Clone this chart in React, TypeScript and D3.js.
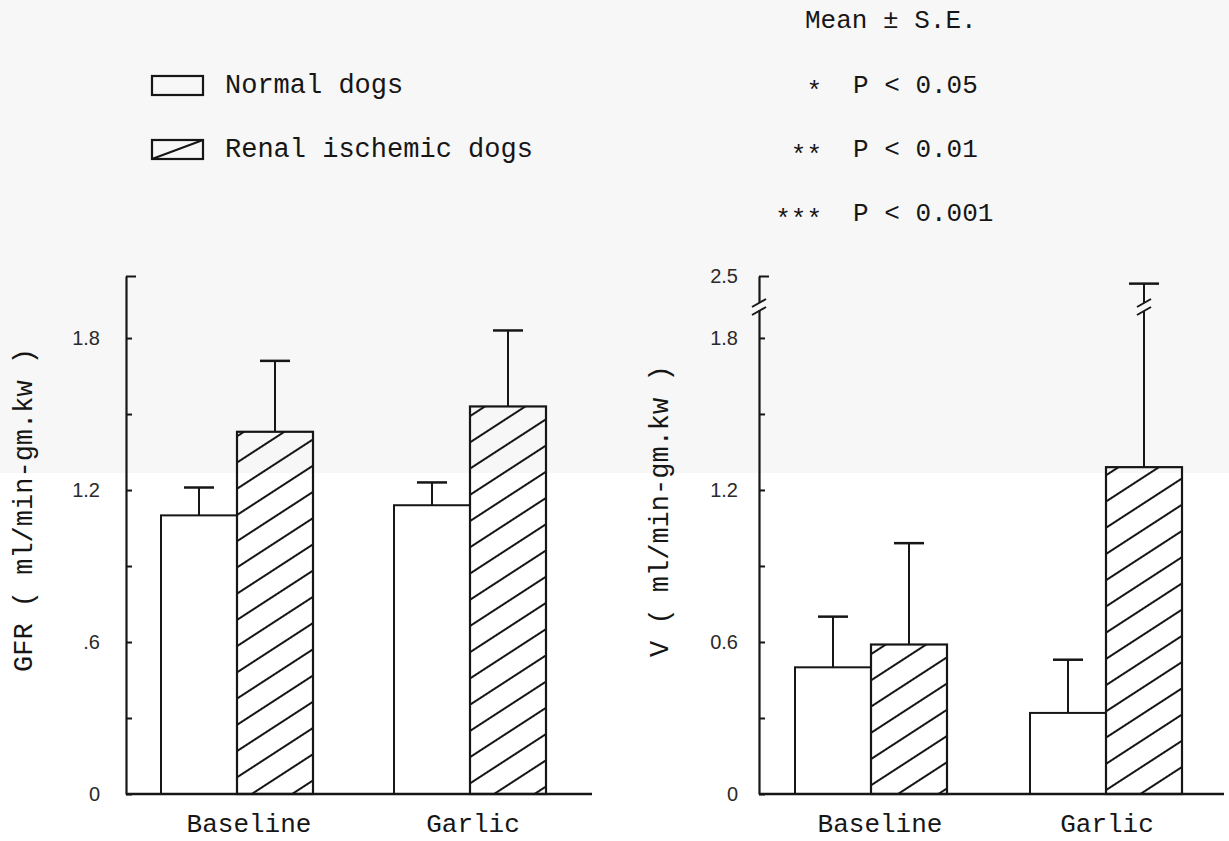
import React, { useEffect, useRef } from 'react';
import * as d3 from 'd3';

// groups on the x axis
const categories = ['Baseline', 'Garlic'];

// GFR ( ml/min-gm.kw ), mean and S.E.
const gfrNormal = [1.10, 1.14];
const gfrNormalSE = [0.11, 0.09];
const gfrRenal = [1.43, 1.53];
const gfrRenalSE = [0.28, 0.30];

// V ( ml/min-gm.kw ), mean and S.E.
const vNormal = [0.50, 0.32];
const vNormalSE = [0.20, 0.21];
const vRenal = [0.59, 1.29];
const vRenalSE = [0.40, 1.06];

// axis ticks (minor ticks have no label)
const gfrTicks = [0, 0.3, 0.6, 0.9, 1.2, 1.5, 1.8, 2.045];
const gfrTickLabels = ['0', '', '.6', '', '1.2', '', '1.8', ''];
const vTicks = [0, 0.3, 0.6, 0.9, 1.2, 1.5, 1.8, 2.5];
const vTickLabels = ['0', '', '0.6', '', '1.2', '', '1.8', '2.5'];

const legendItems = ['Normal dogs', 'Renal ischemic dogs'];
const sigStars = ['*', '**', '***'];
const sigLabels = ['P < 0.05', 'P < 0.01', 'P < 0.001'];

const MONO = '"Liberation Mono", "Courier New", monospace';
const SANS = '"Liberation Sans", Arial, sans-serif';
const INK = '#161616';
const BG = '#f7f7f7';

function App() {
    const ref = useRef<SVGSVGElement>(null);

    useEffect(() => {
        document.body.style.margin = '0';
        const svg = d3.select(ref.current);
        svg.selectAll('*').remove();

        const defs = svg.append('defs');
        const pat = defs.append('pattern')
            .attr('id', 'hatch')
            .attr('patternUnits', 'userSpaceOnUse')
            .attr('width', 12)
            .attr('height', 22)
            .attr('patternTransform', 'rotate(-33)');
        pat.append('line')
            .attr('x1', 0).attr('x2', 12)
            .attr('y1', 11).attr('y2', 11)
            .attr('stroke', INK).attr('stroke-width', 2);

        // scanned page: light grey upper part
        svg.append('rect').attr('x', 0).attr('y', 0)
            .attr('width', 1229).attr('height', 473).attr('fill', BG);

        const barW = 76;

        function drawPanel(cfg) {
            const g = svg.append('g');
            const { y, x, x0, xEnd } = cfg;

            const rows = categories.map((c, i) => ({
                c,
                n: cfg.normal[i], nse: cfg.normalSE[i],
                r: cfg.renal[i], rse: cfg.renalSE[i],
            }));

            g.selectAll('.nbar').data(rows).join('rect')
                .attr('class', 'nbar')
                .attr('x', d => x(d.c) - barW)
                .attr('width', barW)
                .attr('y', d => y(d.n))
                .attr('height', d => y(0) - y(d.n))
                .attr('fill', 'none')
                .attr('stroke', INK).attr('stroke-width', 2);

            g.selectAll('.rbar').data(rows).join('rect')
                .attr('class', 'rbar')
                .attr('x', d => x(d.c))
                .attr('width', barW)
                .attr('y', d => y(d.r))
                .attr('height', d => y(0) - y(d.r))
                .attr('fill', 'url(#hatch)')
                .attr('stroke', INK).attr('stroke-width', 2.2);

            // error bars
            const errs = rows.flatMap(d => [
                { cx: x(d.c) - barW / 2, lo: d.n, hi: d.n + d.nse },
                { cx: x(d.c) + barW / 2, lo: d.r, hi: d.r + d.rse },
            ]);
            g.selectAll('.eline').data(errs).join('line')
                .attr('x1', d => d.cx).attr('x2', d => d.cx)
                .attr('y1', d => y(d.lo)).attr('y2', d => y(d.hi))
                .attr('stroke', INK).attr('stroke-width', 2);
            g.selectAll('.ecap').data(errs).join('line')
                .attr('x1', d => d.cx - 15).attr('x2', d => d.cx + 15)
                .attr('y1', d => y(d.hi)).attr('y2', d => y(d.hi))
                .attr('stroke', INK).attr('stroke-width', 2.5);

            // y axis
            const axis = g.append('g')
                .attr('transform', `translate(${x0},0)`)
                .call(d3.axisLeft(y)
                    .tickValues(cfg.ticks)
                    .tickFormat((d, i) => cfg.tickLabels[i])
                    .tickSizeInner(-6)
                    .tickSizeOuter(0)
                    .tickPadding(cfg.pad));
            axis.select('.domain').attr('stroke', INK).attr('stroke-width', 2.2);
            axis.selectAll('.tick line').attr('stroke', INK).attr('stroke-width', 2)
                .attr('x2', (d, i) => (i === cfg.ticks.length - 1 ? 10 : 6));
            axis.selectAll('.tick text')
                .attr('font-family', SANS).attr('font-size', 20)
                .attr('fill', '#2a2a2a');

            // break marks (axis and the long error bar)
            if (cfg.breakAt !== undefined) {
                const by = y(cfg.breakAt) + 2;
                const marks = [x0, ...errs.filter(d => d.hi > cfg.breakAt).map(d => d.cx)];
                marks.forEach(mx => {
                    g.append('rect').attr('x', mx - 3).attr('y', by - 4)
                        .attr('width', 6).attr('height', 8).attr('fill', BG);
                    [-4, 4].forEach(off => {
                        g.append('line')
                            .attr('x1', mx - 7).attr('x2', mx + 7)
                            .attr('y1', by + off + 4).attr('y2', by + off - 4)
                            .attr('stroke', INK).attr('stroke-width', 2);
                    });
                });
            }

            // x axis
            g.append('line')
                .attr('x1', x0).attr('x2', xEnd)
                .attr('y1', y(0)).attr('y2', y(0))
                .attr('stroke', INK).attr('stroke-width', 2.5);

            // category labels
            g.selectAll('.cat').data(categories).join('text')
                .attr('x', (d, i) => x(d) + cfg.labelDx[i])
                .attr('y', 832)
                .attr('text-anchor', 'middle')
                .attr('font-family', MONO).attr('font-size', 26)
                .attr('fill', INK)
                .text(d => d);

            // y title
            g.append('text')
                .attr('transform', `translate(${cfg.titleX},${cfg.titleY}) rotate(-90)`)
                .attr('font-family', MONO).attr('font-size', 27)
                .attr('fill', INK)
                .text(cfg.title);
        }

        drawPanel({
            y: d3.scaleLinear().domain([0, 2.045]).range([794, 276]),
            x: d3.scalePoint().domain(categories).range([237, 470]),
            x0: 126, xEnd: 592,
            normal: gfrNormal, normalSE: gfrNormalSE,
            renal: gfrRenal, renalSE: gfrRenalSE,
            ticks: gfrTicks, tickLabels: gfrTickLabels, pad: 26,
            labelDx: [12, 3],
            title: 'GFR ( ml/min-gm.kw )', titleX: 32, titleY: 672,
        });

        drawPanel({
            y: d3.scaleLinear().domain([0, 1.93, 2.5]).range([794, 305, 276]),
            x: d3.scalePoint().domain(categories).range([871, 1106]),
            x0: 759, xEnd: 1224,
            normal: vNormal, normalSE: vNormalSE,
            renal: vRenal, renalSE: vRenalSE,
            ticks: vTicks, tickLabels: vTickLabels, pad: 21,
            labelDx: [9, 1],
            breakAt: 1.93,
            title: 'V ( ml/min-gm.kw )', titleX: 668, titleY: 657,
        });

        // legend
        const leg = svg.append('g');
        legendItems.forEach((name, i) => {
            const ly = 76 + i * 64;
            leg.append('rect')
                .attr('x', 152).attr('y', ly).attr('width', 51).attr('height', 19)
                .attr('fill', 'none').attr('stroke', INK).attr('stroke-width', 2.2);
            if (i === 1) {
                leg.append('line')
                    .attr('x1', 152).attr('y1', ly + 19)
                    .attr('x2', 203).attr('y2', ly)
                    .attr('stroke', INK).attr('stroke-width', 2);
            }
            leg.append('text')
                .attr('x', 225).attr('y', ly + 17)
                .attr('font-family', MONO).attr('font-size', 27)
                .attr('fill', INK)
                .text(name);
        });

        // significance notes
        const notes = svg.append('g')
            .attr('font-family', MONO).attr('font-size', 26).attr('fill', INK);
        notes.append('text').attr('x', 805).attr('y', 28).text('Mean \u00b1 S.E.');
        sigStars.forEach((s, i) => {
            notes.append('text')
                .attr('x', 822).attr('y', 99 + i * 64)
                .attr('text-anchor', 'end')
                .text(s);
            notes.append('text')
                .attr('x', 853).attr('y', 93 + i * 64)
                .text(sigLabels[i]);
        });
    }, []);

    return (
        <svg
            ref={ref}
            width={1229}
            height={841}
            style={{ display: 'block', background: '#ffffff' }}
        />
    );
}

export default App;
